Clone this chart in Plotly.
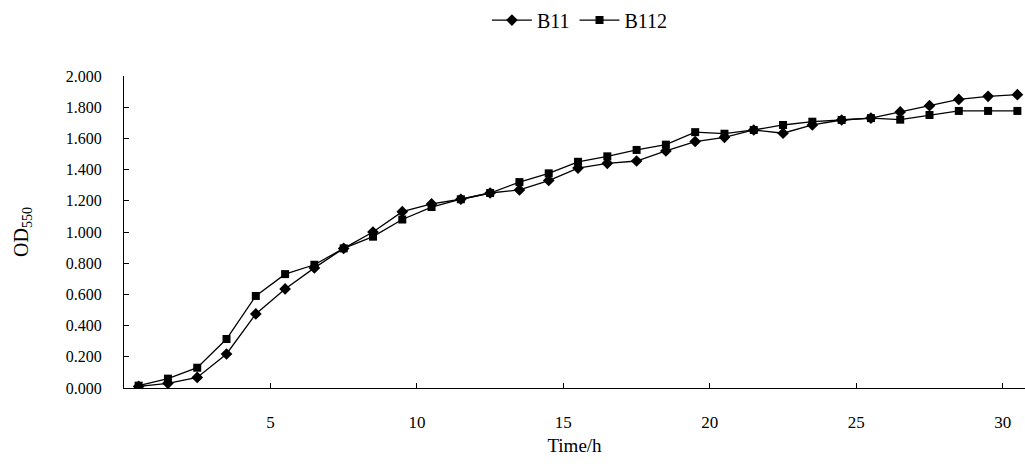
import plotly.graph_objects as go

time_h = [0.5, 1.5, 2.5, 3.5, 4.5, 5.5, 6.5, 7.5, 8.5, 9.5,
          10.5, 11.5, 12.5, 13.5, 14.5, 15.5, 16.5, 17.5, 18.5, 19.5,
          20.5, 21.5, 22.5, 23.5, 24.5, 25.5, 26.5, 27.5, 28.5, 29.5, 30.5]

b11 = [0.010, 0.030, 0.068, 0.218, 0.475, 0.635, 0.770, 0.895, 1.000, 1.130,
       1.180, 1.210, 1.250, 1.270, 1.330, 1.410, 1.440, 1.455, 1.520, 1.580,
       1.607, 1.654, 1.633, 1.686, 1.718, 1.730, 1.770, 1.810, 1.850, 1.870, 1.880]

b112 = [0.015, 0.060, 0.130, 0.314, 0.590, 0.730, 0.790, 0.895, 0.970, 1.080,
        1.160, 1.210, 1.250, 1.320, 1.376, 1.450, 1.485, 1.526, 1.560, 1.640,
        1.630, 1.654, 1.686, 1.707, 1.718, 1.730, 1.720, 1.750, 1.776, 1.776, 1.776]

y_ticks = [0, 0.2, 0.4, 0.6, 0.8, 1.0, 1.2, 1.4, 1.6, 1.8, 2.0]
x_ticks = [5, 10, 15, 20, 25, 30]

FONT = "Liberation Serif"

fig = go.Figure()
fig.add_trace(go.Scatter(
    x=time_h, y=b11, name="B11", mode="lines+markers",
    line=dict(color="black", width=1.3),
    marker=dict(symbol="diamond", size=9, color="black"),
))
fig.add_trace(go.Scatter(
    x=time_h, y=b112, name="B112", mode="lines+markers",
    line=dict(color="black", width=1.3),
    marker=dict(symbol="square", size=8, color="black"),
))

fig.update_layout(
    width=1025, height=467,
    margin=dict(l=124, r=0, t=76, b=79, autoexpand=False),
    paper_bgcolor="white", plot_bgcolor="white",
    font=dict(family=FONT, color="black", size=17),
    showlegend=True,
    legend=dict(orientation="h", xref="paper", x=0.506, xanchor="center",
                yref="container", y=0.957, yanchor="middle",
                font=dict(family=FONT, size=20, color="black"), itemwidth=40,
                bgcolor="rgba(0,0,0,0)"),
)
fig.update_xaxes(
    range=[0, 30.76], tickvals=x_ticks, ticktext=[str(v) for v in x_ticks],
    showline=True, linecolor="black", linewidth=1.3, mirror=False,
    ticks="inside", ticklen=5, tickcolor="black", tickwidth=1.3,
    showgrid=False, zeroline=False, ticklabelstandoff=18, automargin=False,
    tickfont=dict(family=FONT, size=17, color="black"),
    title=dict(text="Time/h", font=dict(family=FONT, size=19, color="black"), standoff=8),
)
fig.update_yaxes(
    range=[0, 2.0], tickvals=y_ticks, tickformat=".3f",
    showline=True, linecolor="black", linewidth=1.3, mirror=False,
    ticks="inside", ticklen=5, tickcolor="black", tickwidth=1.3,
    showgrid=False, zeroline=False, ticklabelstandoff=18, automargin=False,
    tickfont=dict(family=FONT, size=16, color="black"),
    title=dict(text="OD<sub>550</sub>", font=dict(family=FONT, size=20, color="black"), standoff=31),
)

fig.write_html(
    "out.html",
    config={"displayModeBar": False},
    post_script="document.body.style.margin='0';document.body.style.overflow='hidden';",
)
